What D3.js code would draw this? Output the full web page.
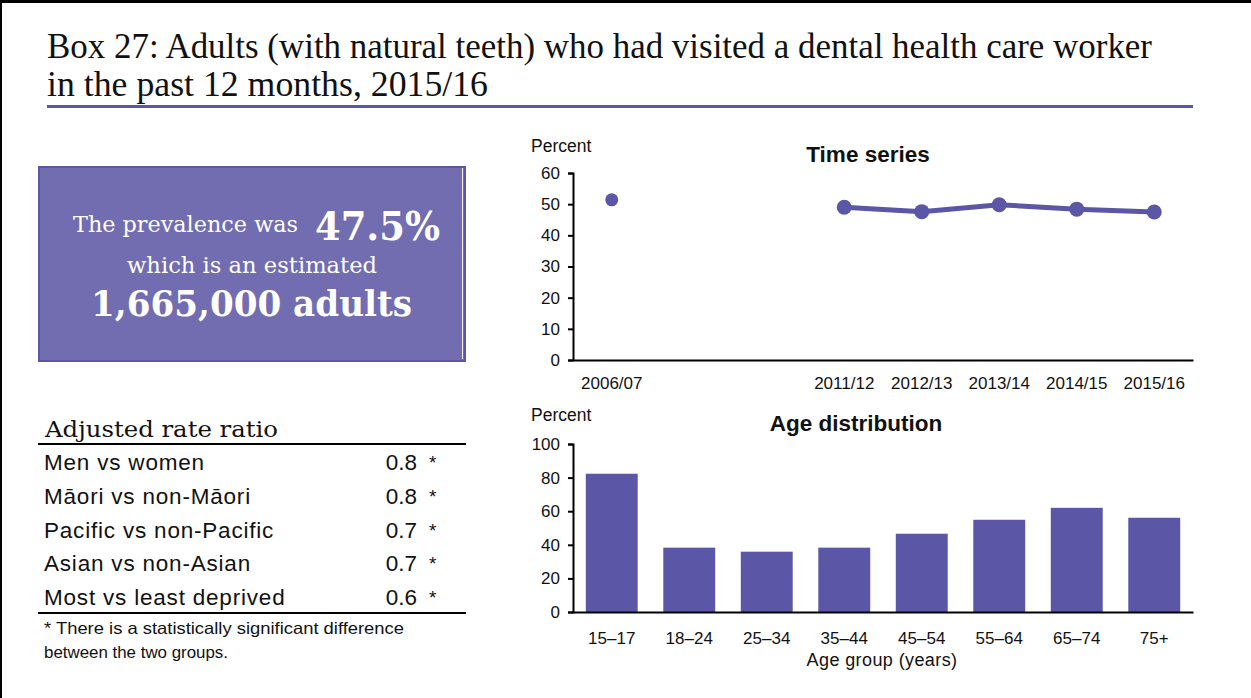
<!DOCTYPE html>
<html>
<head>
<meta charset="utf-8">
<script src="https://cdn.jsdelivr.net/npm/d3@7"></script>
<style>
  html, body { margin: 0; padding: 0; background: #fff; }
  svg { display: block; }
</style>
</head>
<body>
<svg id="chart" width="1251" height="698"></svg>
<script>
// ---- data ----
const titleLines = [
  "Box 27: Adults (with natural teeth) who had visited a dental health care worker",
  "in the past 12 months, 2015/16"
];
const prevalence = 47.5;
const estimatedAdults = 1665000;

const ratioLabels = ["Men vs women", "Māori vs non-Māori", "Pacific vs non-Pacific", "Asian vs non-Asian", "Most vs least deprived"];
const ratioValues = [0.8, 0.8, 0.7, 0.7, 0.6];
const ratioSignificant = [true, true, true, true, true];

// survey years; empty strings are years with no survey (kept as spacing slots)
const timeLabels = ["2006/07", "", "", "2011/12", "2012/13", "2013/14", "2014/15", "2015/16"];
const timeValues = [51.4, null, null, 49.0, 47.6, 49.8, 48.4, 47.5];
const timeTicks = [0, 10, 20, 30, 40, 50, 60];

const ageGroups = ["15–17", "18–24", "25–34", "35–44", "45–54", "55–64", "65–74", "75+"];
const ageValues = [82.3, 38.3, 35.9, 38.3, 46.6, 54.9, 62.0, 56.1];
const ageTicks = [0, 20, 40, 60, 80, 100];

// ---- styling ----
const PURPLE = "#5b56a5";
const BOX_FILL = "#716db0";
const SANS = "'Liberation Sans', Arial, sans-serif";
const SERIF = "'Liberation Serif', 'Times New Roman', serif";
const SERIF_WIDE = "'DejaVu Serif', Georgia, serif";

const svg = d3.select("#chart");

// frame (top and left edges)
svg.append("rect").attr("x", 0).attr("y", 0).attr("width", 1251).attr("height", 3).attr("fill", "#000");
svg.append("rect").attr("x", 0).attr("y", 0).attr("width", 2).attr("height", 698).attr("fill", "#000");

// ---- title ----
const titleG = svg.append("g");
titleG.append("text").attr("x", 47).attr("y", 58)
  .attr("font-family", SERIF).attr("font-size", 35).attr("fill", "#111")
  .attr("textLength", 1105).attr("lengthAdjust", "spacingAndGlyphs")
  .text(titleLines[0]);
titleG.append("text").attr("x", 47).attr("y", 96)
  .attr("font-family", SERIF).attr("font-size", 35).attr("fill", "#111")
  .attr("textLength", 441).attr("lengthAdjust", "spacingAndGlyphs")
  .text(titleLines[1]);
svg.append("rect").attr("x", 47).attr("y", 105).attr("width", 1146).attr("height", 3).attr("fill", PURPLE);

// ---- prevalence box ----
const box = svg.append("g");
box.append("rect").attr("x", 39).attr("y", 167).attr("width", 426).attr("height", 194)
  .attr("fill", BOX_FILL).attr("stroke", PURPLE).attr("stroke-width", 2);
box.append("line").attr("x1", 462.5).attr("x2", 462.5).attr("y1", 168).attr("y2", 359)
  .attr("stroke", "#f2f2f8").attr("stroke-width", 1);
box.append("text").attr("x", 73).attr("y", 232)
  .attr("font-family", SERIF_WIDE).attr("font-size", 23).attr("fill", "#fff")
  .attr("textLength", 225).attr("lengthAdjust", "spacingAndGlyphs")
  .text("The prevalence was");
box.append("text").attr("x", 315).attr("y", 240)
  .attr("font-family", SERIF_WIDE).attr("font-weight", "bold").attr("font-size", 40).attr("fill", "#fff")
  .attr("textLength", 125).attr("lengthAdjust", "spacingAndGlyphs")
  .text(d3.format(".1f")(prevalence) + "%");
box.append("text").attr("x", 127).attr("y", 273)
  .attr("font-family", SERIF_WIDE).attr("font-size", 23).attr("fill", "#fff")
  .attr("textLength", 250).attr("lengthAdjust", "spacingAndGlyphs")
  .text("which is an estimated");
box.append("text").attr("x", 91).attr("y", 316)
  .attr("font-family", SERIF_WIDE).attr("font-weight", "bold").attr("font-size", 35).attr("fill", "#fff")
  .attr("textLength", 321).attr("lengthAdjust", "spacingAndGlyphs")
  .text(d3.format(",")(estimatedAdults) + " adults");

// ---- adjusted rate ratio table ----
const tbl = svg.append("g");
tbl.append("text").attr("x", 45).attr("y", 437)
  .attr("font-family", SERIF_WIDE).attr("font-size", 22).attr("fill", "#111")
  .attr("textLength", 233).attr("lengthAdjust", "spacingAndGlyphs")
  .text("Adjusted rate ratio");
tbl.append("rect").attr("x", 38).attr("y", 443).attr("width", 428).attr("height", 2).attr("fill", "#000");
const rowY = d3.scalePoint().domain(d3.range(ratioLabels.length)).range([470, 605]);
ratioLabels.forEach((lab, i) => {
  tbl.append("text").attr("x", 44).attr("y", rowY(i))
    .attr("font-family", SANS).attr("font-size", 22.5).attr("letter-spacing", 0.8)
    .attr("fill", "#111").text(lab);
  tbl.append("text").attr("x", 417).attr("y", rowY(i)).attr("text-anchor", "end")
    .attr("font-family", SANS).attr("font-size", 22.5).attr("fill", "#111")
    .text(d3.format(".1f")(ratioValues[i]));
  if (ratioSignificant[i]) {
    tbl.append("text").attr("x", 429).attr("y", rowY(i) - 1)
      .attr("font-family", SANS).attr("font-size", 19).attr("fill", "#111").text("*");
  }
});
tbl.append("rect").attr("x", 38).attr("y", 612).attr("width", 428).attr("height", 2).attr("fill", "#000");
tbl.append("text").attr("x", 44).attr("y", 634)
  .attr("font-family", SANS).attr("font-size", 16.5).attr("fill", "#111")
  .attr("textLength", 360).attr("lengthAdjust", "spacingAndGlyphs")
  .text("* There is a statistically significant difference");
tbl.append("text").attr("x", 44).attr("y", 658)
  .attr("font-family", SANS).attr("font-size", 16.5).attr("fill", "#111")
  .attr("textLength", 184).attr("lengthAdjust", "spacingAndGlyphs")
  .text("between the two groups.");

// ---- shared axis styling ----
function styleAxis(g) {
  g.select(".domain").attr("stroke", "#000").attr("stroke-width", 2);
  g.selectAll(".tick line").attr("stroke", "#000").attr("stroke-width", 2);
  g.selectAll(".tick text").attr("font-family", SANS).attr("font-size", 17).attr("fill", "#111");
}

const plotLeft = 573, plotRight = 1193;

// ---- time series ----
const ts = svg.append("g");
const tsTop = 173, tsBottom = 360;
const xTime = d3.scaleBand().domain(d3.range(timeLabels.length)).range([plotLeft, plotRight]);
const yTime = d3.scaleLinear().domain([0, 60]).range([tsBottom, tsTop]);

ts.append("text").attr("x", 531).attr("y", 152)
  .attr("font-family", SANS).attr("font-size", 17.5).attr("fill", "#111").text("Percent");
ts.append("text").attr("x", 868).attr("y", 162).attr("text-anchor", "middle")
  .attr("font-family", SANS).attr("font-weight", "bold").attr("font-size", 22.5).attr("fill", "#111")
  .text("Time series");

ts.append("g").attr("transform", `translate(${plotLeft},0)`)
  .call(d3.axisLeft(yTime).tickValues(timeTicks).tickSize(5).tickSizeOuter(5).tickPadding(8))
  .call(styleAxis);
ts.append("g").attr("transform", `translate(0,${tsBottom})`)
  .call(d3.axisBottom(xTime).tickSize(0).tickSizeOuter(0).tickPadding(17).tickFormat(i => timeLabels[i]))
  .call(styleAxis);

const timePts = timeValues.map((v, i) => ({ i, v }));
const line = d3.line()
  .defined(d => d.v != null)
  .x(d => xTime(d.i) + xTime.bandwidth() / 2)
  .y(d => yTime(d.v));
ts.append("path").datum(timePts.filter((d, k) => k >= 3))
  .attr("d", line).attr("fill", "none").attr("stroke", PURPLE).attr("stroke-width", 5);
ts.selectAll("circle.pt").data(timePts.filter(d => d.v != null)).join("circle")
  .attr("class", "pt")
  .attr("cx", d => xTime(d.i) + xTime.bandwidth() / 2)
  .attr("cy", d => yTime(d.v))
  .attr("r", d => d.i === 0 ? 6.5 : 7.5)
  .attr("fill", PURPLE);

// ---- age distribution ----
const ag = svg.append("g");
const agTop = 444, agBottom = 612;
const xAge = d3.scaleBand().domain(ageGroups).range([plotLeft, plotRight]).paddingInner(0.33).paddingOuter(0.165);
const yAge = d3.scaleLinear().domain([0, 100]).range([agBottom, agTop]);

ag.append("text").attr("x", 531).attr("y", 421)
  .attr("font-family", SANS).attr("font-size", 17.5).attr("fill", "#111").text("Percent");
ag.append("text").attr("x", 856).attr("y", 431).attr("text-anchor", "middle")
  .attr("font-family", SANS).attr("font-weight", "bold").attr("font-size", 22.5).attr("fill", "#111")
  .text("Age distribution");

ag.selectAll("rect.bar").data(ageValues).join("rect")
  .attr("class", "bar")
  .attr("x", (d, i) => xAge(ageGroups[i]))
  .attr("width", xAge.bandwidth())
  .attr("y", d => yAge(d))
  .attr("height", d => agBottom - yAge(d))
  .attr("fill", PURPLE);

ag.append("g").attr("transform", `translate(${plotLeft},0)`)
  .call(d3.axisLeft(yAge).tickValues(ageTicks).tickSize(5).tickSizeOuter(5).tickPadding(8))
  .call(styleAxis);
ag.append("g").attr("transform", `translate(0,${agBottom})`)
  .call(d3.axisBottom(xAge).tickSize(0).tickSizeOuter(0).tickPadding(20))
  .call(styleAxis);
ag.append("text").attr("x", 882).attr("y", 666).attr("text-anchor", "middle")
  .attr("font-family", SANS).attr("font-size", 18).attr("letter-spacing", 0.4).attr("fill", "#111")
  .text("Age group (years)");
</script>
</body>
</html>
